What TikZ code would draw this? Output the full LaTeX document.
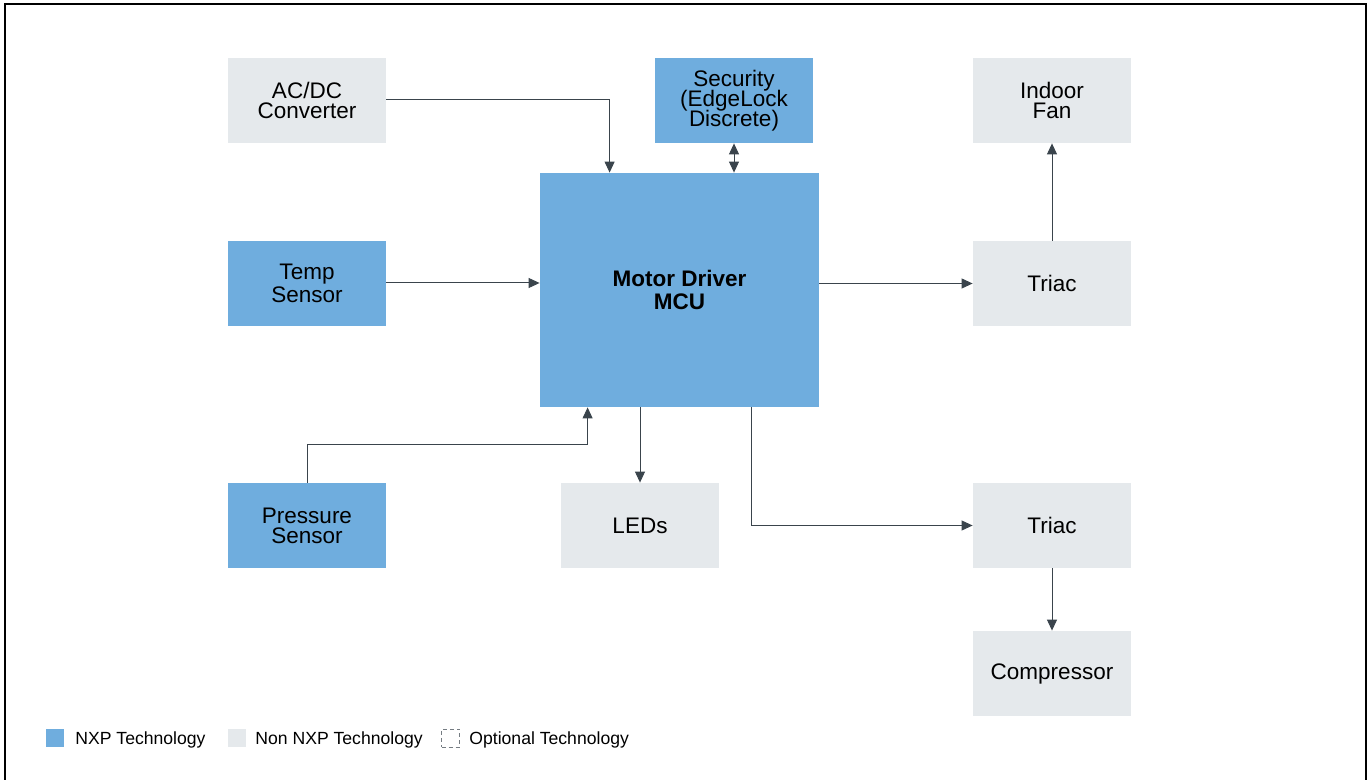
\documentclass[tikz,border=0pt]{standalone}
\usepackage{fontspec}
\setmainfont{Liberation Sans}
\usetikzlibrary{arrows.meta}

\definecolor{nxpblue}{HTML}{6FADDE}
\definecolor{nonnxp}{HTML}{E5E9EC}
\definecolor{wire}{HTML}{3A444C}

\begin{document}
\begin{tikzpicture}[x=0.5pt,y=-0.5pt,
    blk/.style={minimum width=79pt,minimum height=42.5pt,inner sep=0pt,align=center,
      font=\fontsize{11.25}{10}\selectfont},
    nxp/.style={blk,fill=nxpblue},
    other/.style={blk,fill=nonnxp},
    link/.style={wire,line width=0.5pt,-{Triangle[width=5pt,length=5.5pt]}},
    legtext/.style={anchor=west,inner sep=0pt,font=\fontsize{8.8}{10}\selectfont}]
  \useasboundingbox (0,0) rectangle (1367,780);
  \draw[line width=1pt] (5,780) -- (5,4) -- (1365.5,4) -- (1365.5,780);

  % blocks
  \node[other] (acdc) at (307,100.5) {AC/DC\\Converter};
  \node[nxp] (sec) at (734,100.5) {Security\\[-1.5pt](EdgeLock\\[-1.5pt]Discrete)};
  \node[other] (fan) at (1052,100.5) {Indoor\\Fan};
  \node[nxp] (temp) at (307,283.5) {Temp\\Sensor};
  \node[nxp,minimum width=139.5pt,minimum height=117pt,font=\fontsize{11.25}{11.5}\selectfont\bfseries] (mcu) at (679.5,290) {Motor Driver\\MCU};
  \node[other] (triacA) at (1052,283.5) {Triac};
  \node[nxp] (press) at (307,525.5) {Pressure\\Sensor};
  \node[other] (leds) at (640,525.5) {LEDs};
  \node[other] (triacB) at (1052,525.5) {Triac};
  \node[other] (comp) at (1052,673.5) {Compressor};

  % connectors
  \draw[link] (386,100) -| ([xshift=35pt]mcu.north west);
  \draw[link,{Triangle[width=5pt,length=5.5pt]}-{Triangle[width=5pt,length=5.5pt]}] (sec.south) -- (sec.south |- mcu.north);
  \draw[link] (386,283) -- (mcu.west |- 0,283);
  \draw[link] (mcu.east |- triacA.west) -- (triacA.west);
  \draw[link] (triacA.north) -- (fan.south);
  \draw[link] (press.north) -- ++(0,-38) -| ([xshift=24pt]mcu.south west);
  \draw[link] (leds.north |- mcu.south) -- (leds.north);
  \draw[link] ([xshift=106pt]mcu.south west) |- (triacB.west);
  \draw[link] (triacB.south) -- (comp.north);

  % legend
  \node[fill=nxpblue,minimum size=9pt,inner sep=0pt] (keyA) at (55,738) {};
  \node[legtext] (keyAtext) at (75,740) {NXP Technology};
  \node[fill=nonnxp,minimum size=9pt,inner sep=0pt] (keyB) at (236.5,738) {};
  \node[legtext] (keyBtext) at (255,740) {Non NXP Technology};
  \node[draw=wire!70,dashed,line width=0.4pt,dash pattern=on 2pt off 1.5pt,minimum size=9pt,inner sep=0pt] (keyC) at (450.5,738) {};
  \node[legtext] (keyCtext) at (469,740) {Optional Technology};
\end{tikzpicture}
\end{document}
